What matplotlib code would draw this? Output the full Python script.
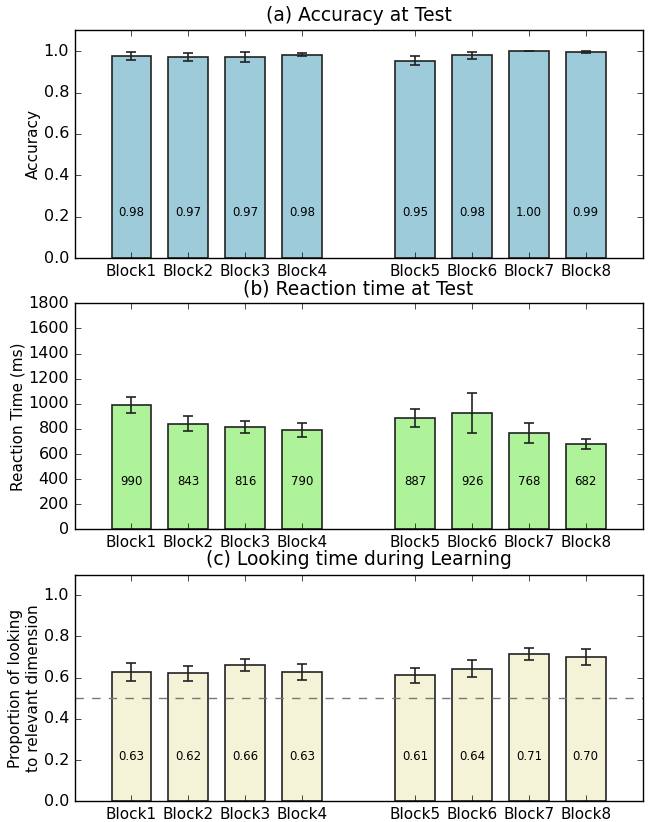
import numpy as np
import matplotlib
matplotlib.use("Agg")
import matplotlib.pyplot as plt

plt.style.use('classic')
plt.rcParams['figure.facecolor'] = 'white'
plt.rcParams['savefig.facecolor'] = 'white'

# data
blocks = ["Block1", "Block2", "Block3", "Block4", "Block5", "Block6", "Block7", "Block8"]
positions = [1, 2, 3, 4, 6, 7, 8, 9]

acc = [0.976, 0.972, 0.972, 0.982, 0.953, 0.980, 1.000, 0.995]
acc_err = [0.018, 0.020, 0.025, 0.007, 0.022, 0.017, 0.0, 0.004]

rt = [990, 843, 816, 790, 887, 926, 768, 682]
rt_err = [66, 60, 45, 57, 75, 160, 80, 40]

look = [0.627, 0.622, 0.662, 0.627, 0.612, 0.644, 0.714, 0.700]
look_err = [0.042, 0.037, 0.030, 0.040, 0.037, 0.040, 0.028, 0.040]

fig = plt.figure(figsize=(6.49, 8.22), dpi=100)

panels = [
    (acc, acc_err, '#9ecbda', "(a) Accuracy at Test", "Accuracy", (0, 1.1),
     np.arange(0, 1.01, 0.2), 0.22, "{:.2f}", [0.115, 0.686, 0.875, 0.277]),
    (rt, rt_err, '#aef29a', "(b) Reaction time at Test", "Reaction Time (ms)", (0, 1800),
     np.arange(0, 1801, 200), 380, "{:.0f}", [0.115, 0.356, 0.875, 0.275]),
    (look, look_err, '#f4f3d8', "(c) Looking time during Learning",
     "Proportion of looking\nto relevant dimension", (0, 1.1),
     np.arange(0, 1.01, 0.2), 0.22, "{:.2f}", [0.115, 0.025, 0.875, 0.276]),
]

for vals, errs, col, title, ylab, ylim, yticks, ytext, fmt, rect in panels:
    ax = fig.add_axes(rect)
    ax.bar(positions, vals, 0.7, align='center', color=col, edgecolor='#222222',
           linewidth=1.2, yerr=errs, ecolor='#222222', capsize=3.7,
           error_kw=dict(elinewidth=1.2, capthick=1.2))
    for p, v in zip(positions, vals):
        ax.text(p, ytext, fmt.format(v), ha='center', va='center', fontsize=8.5)
    if ylab.startswith("Proportion"):
        ax.axhline(0.5, color='#777777', linestyle='--', linewidth=1)
    ax.set_xlim(0, 10)
    ax.set_ylim(*ylim)
    ax.set_yticks(yticks)
    ax.set_xticks(positions)
    ax.set_xticklabels(blocks, fontsize=11)
    ax.tick_params(axis='y', labelsize=11.5)
    ax.set_ylabel(ylab, fontsize=11, labelpad=2)
    ax.set_title(title, fontsize=13.5, y=1.01)

plt.savefig("out.png", dpi=100)
